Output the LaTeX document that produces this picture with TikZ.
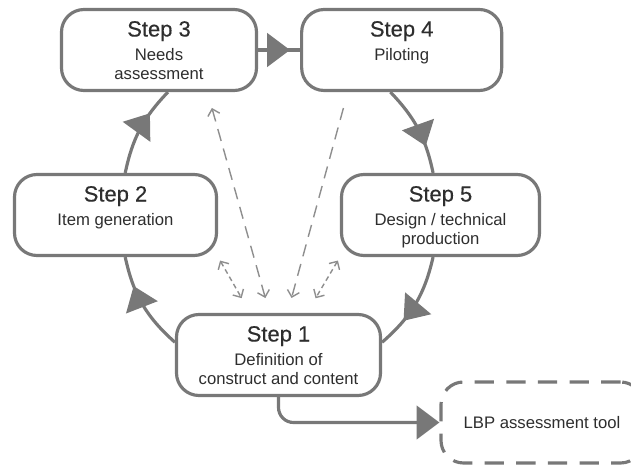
\documentclass[tikz,border=0pt]{standalone}
\usepackage{fontspec}
\setmainfont{Liberation Sans}
\newfontfamily\stepfont[FakeBold=0.35]{Liberation Sans}
\definecolor{lpGray}{HTML}{787878}
\definecolor{lpDash}{HTML}{8E8E8E}
\definecolor{lpText}{HTML}{2E2E2E}
\usetikzlibrary{arrows.meta, positioning, decorations.markings}

\newcommand{\steptext}[2]{\parbox[c][1.62cm][t]{3.8cm}{\centering
  \rule{0pt}{0.54cm}{\stepfont\fontsize{12.5}{14}\selectfont #1}\par
  \vspace{3.6pt}#2\par}}

\begin{document}
\begin{tikzpicture}[
  every node/.style={font=\fontsize{9.5}{10.3}\selectfont, align=center, text=lpText},
  box/.style={rectangle, draw=lpGray, fill=white, line width=1.8pt,
              rounded corners=0.45cm, minimum height=1.62cm,
              minimum width=3.95cm, inner sep=0pt},
  outbox/.style={box, dash pattern=on 11pt off 7pt},
  cyc/.style={draw=lpGray, line width=1.8pt, postaction={decorate},
              decoration={markings, mark=at position #1 with
              {\arrow[lpGray]{Triangle[length=13pt, width=19pt]}}}},
  cyc/.default=0.7,
  flow/.style={draw=lpGray, line width=1.8pt, rounded corners=0.3cm,
               -{Triangle[length=13pt, width=19pt]}},
  link/.style={draw=lpDash, line width=0.8pt, dash pattern=on 7pt off 4.5pt,
               >={Straight Barb[length=3.5pt, width=7pt]}},
  dotlink/.style={link, dash pattern=on 2.8pt off 2pt}
]
  \useasboundingbox (0,0) rectangle (12.62,-9.3);
  \clip (0,0) rectangle (12.62,-9.3);

  % the five steps
  \node[box, minimum width=3.9cm] (step3) at (3.18,-1.0)
    {\steptext{Step 3}{Needs\\assessment}};
  \node[box, minimum width=4.0cm, right=0.84cm of step3] (step4)
    {\steptext{Step 4}{Piloting}};
  \node[box, minimum width=4.04cm] (step2) at (2.31,-4.3)
    {\steptext{Step 2}{Item generation}};
  \node[box, minimum width=3.96cm] (step5) at (8.81,-4.3)
    {\steptext{Step 5}{Design / technical\\production}};
  \node[box, minimum width=4.08cm] (step1) at (5.57,-7.1)
    {\steptext{Step 1}{Definition of\\construct and content}};

  \node[outbox, minimum width=4.04cm] (lbp) at (10.84,-8.45) {LBP assessment tool};

  % cycle
  \draw[cyc] (step1.173) to[bend left=18] (step2.283);
  \draw[cyc] (step2.77) to[bend left=16] (step3.282);
  \draw[cyc=0.76] (step3) -- (step4);
  \draw[cyc] (step4.255) to[bend left=16] (step5.100);
  \draw[cyc] (step5.260) to[bend left=18] (step1.7);

  \draw[flow] (step1.south) |- (lbp.west);

  % feedback
  \draw[link, <->, shorten <=0.33cm, shorten >=0.31cm] (step3.-41.5) -- (step1.102);
  \draw[link, ->, shorten <=0.33cm, shorten >=0.31cm] (step4.218) -- (step1.78);
  \draw[dotlink, <->, shorten <=0.08cm, shorten >=0.34cm] (step2.south east) -- (step1.124);
  \draw[dotlink, <->, shorten <=0.08cm, shorten >=0.34cm] (step5.south west) -- (step1.56);
\end{tikzpicture}
\end{document}
